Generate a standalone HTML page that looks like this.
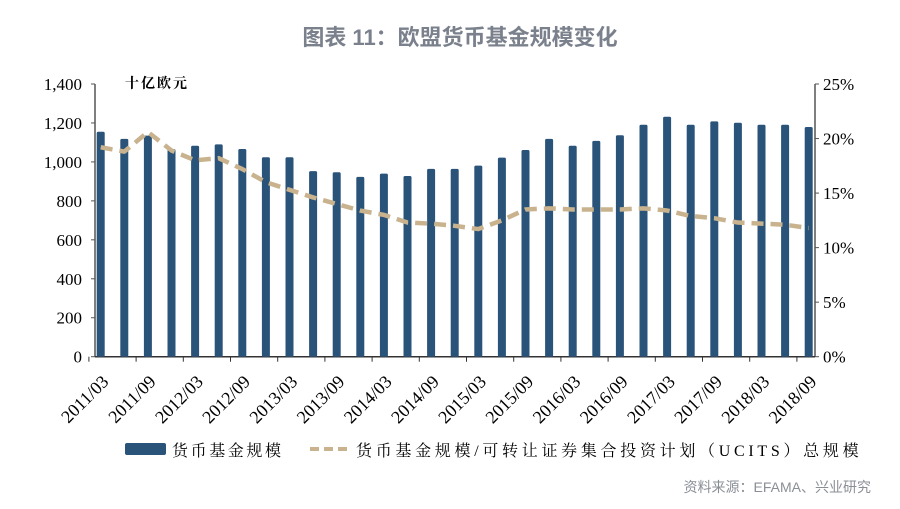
<!DOCTYPE html>
<html><head><meta charset="utf-8"><style>
html,body{margin:0;padding:0;background:#fff;}
svg{display:block;}
</style></head><body>
<svg id="chart" width="900" height="509" xmlns="http://www.w3.org/2000/svg">
<text x="460" y="45" text-anchor="middle" font-family="'Liberation Sans','Noto Sans CJK SC',sans-serif" font-size="22" font-weight="bold" fill="#7a818c">图表 11：欧盟货币基金规模变化</text>
<text x="125" y="88" font-family="'Liberation Serif','Noto Serif CJK SC',serif" font-size="14" font-weight="bold" fill="#000" letter-spacing="2">十亿欧元</text>
<g id="axes"></g>
<g id="bars"></g>
<g id="line"></g>
<g>
<rect x="125" y="443" width="41" height="12" rx="2" fill="#2a537a"/>
<text x="172" y="456" font-family="'Liberation Serif','Noto Serif CJK SC',serif" font-size="16" fill="#000" letter-spacing="2.6">货币基金规模</text>
<line x1="310" y1="449" x2="348" y2="449" stroke="#c9b38f" stroke-width="4" stroke-dasharray="9,5"/>
<text x="356" y="456" font-family="'Liberation Serif','Noto Serif CJK SC',serif" font-size="16" fill="#000" letter-spacing="3.7">货币基金规模/可转让证券集合投资计划（UCITS）总规模</text>
</g>
<text x="871" y="492" text-anchor="end" font-family="'Liberation Sans','Noto Sans CJK SC',sans-serif" font-size="14" fill="#8a8f96">资料来源：EFAMA、兴业研究</text>
</svg>
<script>
const categories=["2011/03","2011/06","2011/09","2011/12","2012/03","2012/06","2012/09","2012/12","2013/03","2013/06","2013/09","2013/12","2014/03","2014/06","2014/09","2014/12","2015/03","2015/06","2015/09","2015/12","2016/03","2016/06","2016/09","2016/12","2017/03","2017/06","2017/09","2017/12","2018/03","2018/06","2018/09"];
const fundSize=[1155,1118,1135,1066,1083,1090,1066,1024,1024,953,947,923,940,928,964,964,981,1022,1061,1118,1083,1108,1137,1191,1232,1191,1208,1201,1191,1191,1179];
const ratioPct=[19.2,18.8,20.6,18.9,18.0,18.2,17.2,16.0,15.3,14.6,14.0,13.4,13.0,12.3,12.2,12.0,11.7,12.5,13.5,13.6,13.5,13.5,13.5,13.6,13.4,12.9,12.7,12.3,12.2,12.1,11.8];
const leftTicks=[0,200,400,600,800,1000,1200,1400];
const leftTickLabels=["0","200","400","600","800","1,000","1,200","1,400"];
const rightTicks=[0,5,10,15,20,25];
const rightTickLabels=["0%","5%","10%","15%","20%","25%"];

const NS="http://www.w3.org/2000/svg";
const y0=356.7,y1=84,axL=95,axR=815;
const xC=i=>100.7+i*23.6;
const yL=v=>y0-(v/1400)*(y0-y1);
const yR=v=>y0-(v/25)*(y0-y1);
function mk(tag,attrs,parent){const e=document.createElementNS(NS,tag);for(const k in attrs)e.setAttribute(k,attrs[k]);parent.appendChild(e);return e;}
const axes=document.getElementById('axes'),bars=document.getElementById('bars'),line=document.getElementById('line');
const serif="'Liberation Serif',serif";
let e;
e=mk('line',{x1:axL,y1:y1,x2:axL,y2:y0,stroke:'#555','stroke-width':1.5},axes);

e=mk('line',{x1:axR,y1:y1,x2:axR,y2:y0,stroke:'#555','stroke-width':1.5},axes);

leftTicks.forEach((v,i)=>{
 mk('line',{x1:axL-4,y1:yL(v),x2:axL,y2:yL(v),stroke:'#555','stroke-width':1},axes);
 const t=mk('text',{x:82,y:yL(v)+6,'text-anchor':'end','font-family':serif,'font-size':17,fill:'#000'},axes);
 t.textContent=leftTickLabels[i];
 
 
});
rightTicks.forEach((v,i)=>{
 mk('line',{x1:axR,y1:yR(v),x2:axR+4,y2:yR(v),stroke:'#555','stroke-width':1},axes);
 const t=mk('text',{x:823,y:yR(v)+6,'font-family':serif,'font-size':17,fill:'#000'},axes);
 t.textContent=rightTickLabels[i];
 
 
});
categories.forEach((c,i)=>{
 const r=mk('rect',{x:xC(i)-4,y:yL(fundSize[i]),width:8,height:y0-yL(fundSize[i]),rx:1.5,fill:'#2a537a'},bars);
 
 
 if(i%2===0){
  mk('line',{x1:xC(i)-11.8,y1:y0,x2:xC(i)-11.8,y2:y0+5,stroke:'#333','stroke-width':1},axes);
  const ax=xC(i)+9, ay=y0+26;
  const t=mk('text',{x:ax,y:ay,'text-anchor':'end','font-family':serif,'font-size':18,fill:'#000',transform:`rotate(-45 ${ax} ${ay})`},axes);
  t.textContent=c;
  
  
 }
});
e=mk('line',{x1:axL,y1:y0,x2:axR,y2:y0,stroke:'#333','stroke-width':1.5},axes);

const pts=ratioPct.map((v,i)=>xC(i)+','+yR(v)).join(' ');
const pl=mk('polyline',{points:pts,fill:'none',stroke:'#c9b38f','stroke-width':4.5,'stroke-dasharray':'12,7','stroke-linejoin':'round'},line);


</script>
</body></html>
